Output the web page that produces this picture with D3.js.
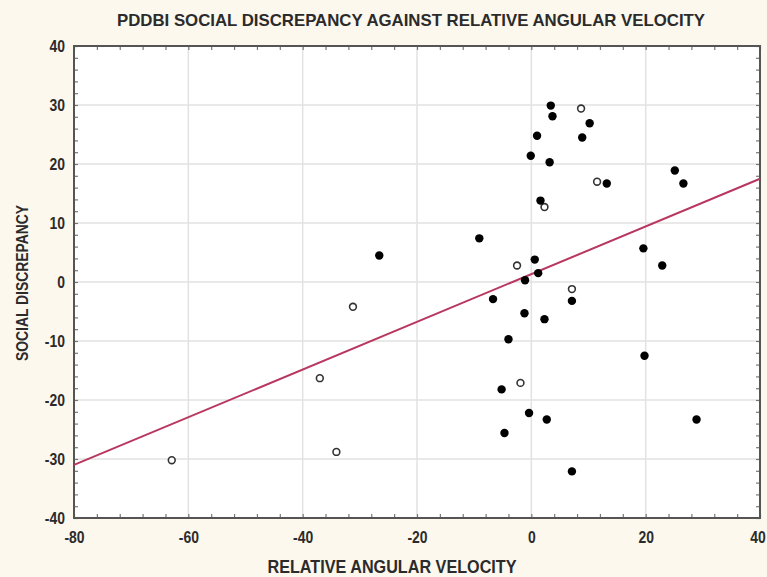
<!DOCTYPE html>
<html><head><meta charset="utf-8">
<script src="https://cdn.jsdelivr.net/npm/d3@7"></script>
<style>
html,body{margin:0;padding:0;background:#fcf8ee;}
svg{display:block;}
text{font-family:"Liberation Sans",Arial,sans-serif;fill:#2b2b2b;}
</style></head>
<body><svg id="chart" width="767" height="577"></svg>
<script>
// Filled markers (x = relative angular velocity, y = social discrepancy)
const filledX = [3.4, 3.7, 1.0, 10.2, 8.9, -0.1, 3.2, 13.2, 25.1, 26.6, 1.6, -9.1, 0.6, -26.6, 1.2, -1.1, 19.6, 22.9, -6.7, 7.1, -1.2, 2.3, -4.0, 19.8, -5.2, -0.4, 2.7, -4.7, 28.9, 7.1];
const filledY = [29.9, 28.1, 24.8, 26.9, 24.5, 21.4, 20.3, 16.7, 18.9, 16.7, 13.8, 7.4, 3.8, 4.5, 1.5, 0.3, 5.7, 2.8, -2.9, -3.2, -5.3, -6.3, -9.7, -12.5, -18.2, -22.2, -23.3, -25.6, -23.3, -32.1];
// Open markers
const openX = [8.7, 11.5, 2.3, -2.5, 7.1, -1.9, -31.2, -37.0, -34.1, -62.9];
const openY = [29.4, 17.0, 12.7, 2.8, -1.2, -17.1, -4.2, -16.3, -28.8, -30.2];
// Fitted line end points
const fitX = [-80, 40];
const fitY = [-31.0, 17.5];
// Ticks
const xTicks = [-80, -60, -40, -20, 0, 20, 40];
const yTicks = [40, 30, 20, 10, 0, -10, -20, -30, -40];
const xMinor = d3.range(-80, 40.01, 4);
const yMinor = d3.range(-40, 40.01, 2);
const title = "PDDBI SOCIAL DISCREPANCY AGAINST RELATIVE ANGULAR VELOCITY";
const xTitle = "RELATIVE ANGULAR VELOCITY";
const yTitle = "SOCIAL DISCREPANCY";

const svg = d3.select("#chart");
const L = 74, R = 760, T = 46, B = 518;
const x = d3.scaleLinear().domain([-80, 40]).range([L, R]);
const y = d3.scaleLinear().domain([-40, 40]).range([B, T]);

svg.append("rect").attr("width", 767).attr("height", 577).attr("fill", "#fcf8ee");
svg.append("rect").attr("x", L).attr("y", T).attr("width", R - L).attr("height", B - T).attr("fill", "#ffffff");

// grid
const g = svg.append("g");
g.selectAll(".gx").data(xTicks.slice(1, -1)).join("line")
  .attr("x1", d => x(d)).attr("x2", d => x(d)).attr("y1", T).attr("y2", B)
  .attr("stroke", "#e2e2e2").attr("stroke-width", 1.5);
g.selectAll(".gy").data(yTicks.slice(1, -1)).join("line")
  .attr("y1", d => y(d)).attr("y2", d => y(d)).attr("x1", L).attr("x2", R)
  .attr("stroke", "#e2e2e2").attr("stroke-width", 1.5);

// axes with inward ticks (major + minor), mirrored
function styleAxis(sel) {
  sel.select(".domain").remove();
  sel.selectAll(".tick line").attr("stroke", "#777").attr("stroke-width", 1.2);
}
const axB = svg.append("g").attr("transform", `translate(0,${B})`)
  .call(d3.axisBottom(x).tickValues(xMinor).tickSize(-4).tickFormat(""));
styleAxis(axB);
const axT = svg.append("g").attr("transform", `translate(0,${T})`)
  .call(d3.axisTop(x).tickValues(xMinor).tickSize(-4).tickFormat(""));
styleAxis(axT);
const axL = svg.append("g").attr("transform", `translate(${L},0)`)
  .call(d3.axisLeft(y).tickValues(yMinor).tickSize(-4).tickFormat(""));
styleAxis(axL);
const axR = svg.append("g").attr("transform", `translate(${R},0)`)
  .call(d3.axisRight(y).tickValues(yMinor).tickSize(-4).tickFormat(""));
styleAxis(axR);

// frame
svg.append("rect").attr("x", L).attr("y", T).attr("width", R - L).attr("height", B - T)
  .attr("fill", "none").attr("stroke", "#555").attr("stroke-width", 2);

// tick labels (condensed bold look)
const fmt = d => String(d);
const xl = svg.append("g").attr("transform", `translate(0,${B})`)
  .call(d3.axisBottom(x).tickValues(xTicks).tickSize(0).tickPadding(13).tickFormat(fmt));
xl.select(".domain").remove();
xl.selectAll("text").attr("font-size", 17).attr("font-weight", "bold").attr("fill", "#2b2b2b")
  .attr("transform", "scale(0.82,1)")
  .attr("x", d => d === 40 ? -3 : 0);
const yl = svg.append("g").attr("transform", `translate(${L},0)`)
  .call(d3.axisLeft(y).tickValues(yTicks).tickSize(0).tickFormat(fmt));
yl.select(".domain").remove();
yl.selectAll("text").attr("font-size", 17).attr("font-weight", "bold").attr("fill", "#2b2b2b")
  .attr("x", -11).attr("transform", "scale(0.82,1)");

// fit line
svg.append("path").datum(fitX.map((d, i) => [d, fitY[i]]))
  .attr("d", d3.line().x(d => x(d[0])).y(d => y(d[1])))
  .attr("stroke", "#b8365f").attr("stroke-width", 2).attr("fill", "none");

// points
svg.append("g").selectAll("circle").data(openX.map((d, i) => [d, openY[i]])).join("circle")
  .attr("cx", d => x(d[0])).attr("cy", d => y(d[1])).attr("r", 3.4)
  .attr("fill", "#fff").attr("stroke", "#333").attr("stroke-width", 1.6);
svg.append("g").selectAll("circle").data(filledX.map((d, i) => [d, filledY[i]])).join("circle")
  .attr("cx", d => x(d[0])).attr("cy", d => y(d[1])).attr("r", 4.2)
  .attr("fill", "#000");

// titles
svg.append("text").attr("x", 411).attr("y", 26).attr("text-anchor", "middle")
  .attr("font-size", 17).attr("font-weight", "bold")
  .attr("textLength", 588).attr("lengthAdjust", "spacingAndGlyphs").text(title);
svg.append("text").attr("x", 392).attr("y", 573).attr("text-anchor", "middle")
  .attr("font-size", 18).attr("font-weight", "bold")
  .attr("textLength", 249).attr("lengthAdjust", "spacingAndGlyphs").text(xTitle);
svg.append("text").attr("transform", "translate(28,283) rotate(-90)").attr("text-anchor", "middle")
  .attr("font-size", 16).attr("font-weight", "bold")
  .attr("textLength", 156).attr("lengthAdjust", "spacingAndGlyphs").text(yTitle);
</script></body></html>
